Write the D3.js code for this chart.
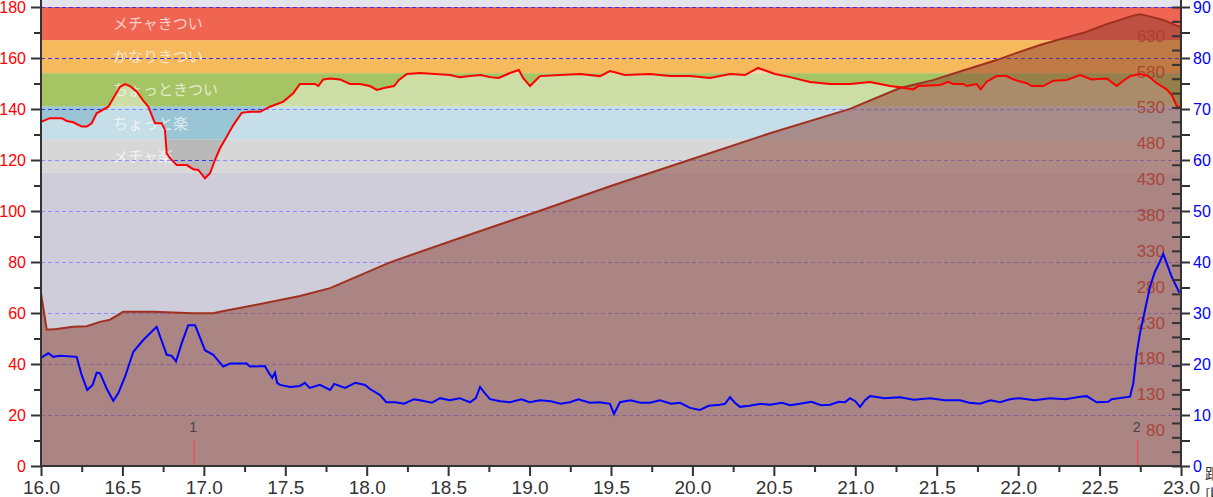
<!DOCTYPE html>
<html><head><meta charset="utf-8">
<script src="https://cdn.jsdelivr.net/npm/d3@7"></script>
<style>body{margin:0;background:#fff;} svg{display:block;}</style>
</head><body><svg id="c" width="1213" height="497"></svg>
<script>
// ---- data: [distance km, value] ----
const heartRate = [[16.00,135],[16.055,136.4],[16.127,136.4],[16.158,135.3],[16.198,134.8],[16.25,133.1],[16.281,133.1],[16.311,134.4],[16.342,138.3],[16.413,140.9],[16.444,144.2],[16.485,148.7],[16.516,149.8],[16.546,149],[16.588,146.8],[16.628,143.3],[16.659,140.9],[16.70,134.4],[16.741,134.4],[16.761,131.8],[16.772,122.6],[16.792,120.7],[16.833,118],[16.895,118],[16.935,116.4],[16.966,116.1],[17.007,112.8],[17.038,114.8],[17.068,120],[17.099,124.6],[17.14,129.1],[17.181,133.7],[17.232,138.5],[17.283,138.9],[17.345,138.9],[17.406,140.9],[17.488,142.9],[17.549,146.2],[17.59,149.8],[17.682,149.8],[17.703,149],[17.733,151.6],[17.775,152],[17.836,151.6],[17.897,149.8],[17.958,149.8],[18.019,149],[18.063,147.5],[18.106,148.2],[18.168,149],[18.198,151.4],[18.247,153.7],[18.33,154.1],[18.42,153.7],[18.511,153.3],[18.57,152.5],[18.634,152.9],[18.70,153.3],[18.757,152.5],[18.81,152.2],[18.88,154.1],[18.934,155.3],[18.96,152.2],[19.003,149.0],[19.04,151.4],[19.064,152.9],[19.187,153.3],[19.31,153.7],[19.432,152.9],[19.494,154.9],[19.586,153.3],[19.739,153.7],[19.862,152.9],[19.985,152.9],[20.108,152.2],[20.231,153.7],[20.323,153.3],[20.403,156.1],[20.507,153.7],[20.599,152.5],[20.722,150.6],[20.845,149.8],[20.967,149.8],[21.09,150.6],[21.213,149],[21.274,148.5],[21.356,147.7],[21.387,149],[21.52,149.4],[21.571,150.7],[21.602,149.8],[21.663,149.8],[21.684,149],[21.745,149.8],[21.77,147.7],[21.807,150.7],[21.868,152.9],[21.93,152.9],[21.97,151.6],[22.052,150.1],[22.083,149],[22.154,149],[22.216,151.1],[22.298,151.4],[22.38,153.3],[22.452,151.6],[22.544,152],[22.605,149],[22.646,151.1],[22.687,152.9],[22.748,153.7],[22.799,152.9],[22.851,150.1],[22.912,147.7],[22.943,145.5],[22.974,141.2],[23.0,140.4]];

const elevation = [[16.0,271],[16.035,220],[16.096,221],[16.198,224],[16.281,225],[16.362,231],[16.424,234],[16.505,245],[16.69,245],[16.935,243],[17.058,243],[17.099,245],[17.283,253],[17.59,267],[17.775,278],[18.143,314],[18.573,348],[19.064,386],[19.494,420],[19.985,457],[20.476,494],[20.967,528],[21.274,557],[21.477,568],[21.643,580],[21.868,596],[21.991,606],[22.134,617],[22.257,625],[22.40,634],[22.544,646],[22.625,652],[22.707,658],[22.748,660],[22.789,658],[22.891,652],[22.973,644],[23.0,642]];

const speed = [[16.004,21.3],[16.045,22.1],[16.076,21.4],[16.117,21.6],[16.219,21.4],[16.25,17.8],[16.284,14.9],[16.317,15.9],[16.342,18.3],[16.362,18.2],[16.403,15.2],[16.444,12.8],[16.475,14.3],[16.516,17.5],[16.567,22.4],[16.628,24.7],[16.71,27.3],[16.772,21.8],[16.803,21.6],[16.829,20.5],[16.864,24.1],[16.904,27.6],[16.946,27.6],[17.007,22.7],[17.058,21.8],[17.119,19.5],[17.16,20.1],[17.263,20.1],[17.283,19.5],[17.375,19.6],[17.40,18.2],[17.42,17.3],[17.437,18.3],[17.45,16.3],[17.468,15.9],[17.53,15.5],[17.59,15.7],[17.62,16.3],[17.65,15.3],[17.713,15.9],[17.775,14.9],[17.80,16.1],[17.867,15.3],[17.93,16.3],[17.99,15.9],[18.02,15.1],[18.082,13.9],[18.12,12.5],[18.174,12.5],[18.23,12.2],[18.29,13.1],[18.327,12.9],[18.40,12.4],[18.45,13.3],[18.511,12.9],[18.57,13.3],[18.634,12.5],[18.67,13.3],[18.696,15.5],[18.72,14.5],[18.757,13.1],[18.82,12.7],[18.88,12.5],[18.95,13.1],[19.0,12.5],[19.064,12.9],[19.13,12.7],[19.19,12.2],[19.248,12.5],[19.30,13.1],[19.37,12.4],[19.432,12.5],[19.494,12.2],[19.518,10.2],[19.555,12.5],[19.62,12.9],[19.68,12.4],[19.739,12.4],[19.80,12.9],[19.87,12.2],[19.924,12.4],[19.985,11.4],[20.046,11.0],[20.1,11.8],[20.169,12.0],[20.2,12.2],[20.231,13.5],[20.26,12.4],[20.292,11.6],[20.35,11.8],[20.42,12.2],[20.476,12.0],[20.55,12.4],[20.60,11.9],[20.66,12.2],[20.73,12.6],[20.79,11.9],[20.845,12.0],[20.9,12.6],[20.937,12.5],[20.967,13.3],[21.0,12.7],[21.029,11.6],[21.06,12.9],[21.09,13.7],[21.18,13.3],[21.274,13.5],[21.36,13.0],[21.459,13.3],[21.55,12.9],[21.643,12.9],[21.70,12.4],[21.766,12.2],[21.83,12.9],[21.889,12.5],[21.95,13.1],[22.011,13.3],[22.1,12.9],[22.195,13.3],[22.29,13.1],[22.38,13.6],[22.421,13.7],[22.482,12.5],[22.553,12.6],[22.574,13.1],[22.687,13.6],[22.707,16.2],[22.728,22.1],[22.748,26.0],[22.779,30.6],[22.81,35.2],[22.84,38.1],[22.871,40.1],[22.891,41.6],[22.943,37.1],[22.99,34.0]];

const zoneNames = ["メチャきつい","かなりきつい","ちょっときつい","ちょっと楽","メチャ楽"];
const zoneBounds = [180,167,154,141,128,115];
const zoneColors = ["#f06452","#f6b95c","#a5c463","#99c5d5","#b9b9b9"];
const hrTicks = d3.range(0,181,10);
const hrGrid = d3.range(20,181,20);
const speedTicks = d3.range(0,91,5);
const elevTicks = d3.range(30,671,20);
const elevLabels = d3.range(80,631,50);
const kmTicks = d3.range(0,29).map(i=>16+i*0.25);
const laps = [[16.94,"1"],[22.734,"2"]];
const axisTitle = ["距離","[km]"];

// ---- layout ----
const L=41,R=1181,T=7,B=466;
const svg = d3.select("#c");
const x = d3.scaleLinear().domain([16,23]).range([L,R]);
const yHR = d3.scaleLinear().domain([0,180]).range([B,T]);
const ySp = d3.scaleLinear().domain([0,90]).range([B,T]);
const yEl = d3.scaleLinear().domain([30,670]).range([B,T]);

svg.append("defs").append("clipPath").attr("id","pc")
  .append("rect").attr("x",L).attr("y",0).attr("width",R-L).attr("height",B);

const plot = svg.append("g").attr("clip-path","url(#pc)");
plot.append("rect").attr("x",L).attr("y",0).attr("width",R-L).attr("height",B).attr("fill","#e4e4ee");
plot.append("rect").attr("x",L).attr("y",yHR(115)).attr("width",R-L).attr("height",B-yHR(115)).attr("fill","#a9a7bc");
plot.selectAll("rect.zone").data(zoneNames).join("rect").attr("class","zone")
  .attr("x",L).attr("width",R-L)
  .attr("y",(d,i)=>yHR(zoneBounds[i]))
  .attr("height",(d,i)=>yHR(zoneBounds[i+1])-yHR(zoneBounds[i]))
  .attr("fill",(d,i)=>zoneColors[i]);
plot.selectAll("text.zone").data(zoneNames).join("text").attr("class","zone")
  .attr("x",L+72)
  .attr("y",(d,i)=>(yHR(zoneBounds[i])+yHR(zoneBounds[i+1]))/2+1.5)
  .attr("dominant-baseline","middle")
  .attr("font-family","'Noto Sans CJK JP'").attr("font-size",15)
  .attr("fill","#fff").attr("fill-opacity",0.7).text(d=>d);

plot.selectAll("line.grid").data(hrGrid).join("line").attr("class","grid")
  .attr("x1",L).attr("x2",R).attr("y1",d=>yHR(d)+0.5).attr("y2",d=>yHR(d)+0.5)
  .attr("stroke","#3333ff").attr("stroke-width",1).attr("stroke-dasharray","4,3");

const hrArea = d3.area().x(d=>x(d[0])).y0(B).y1(d=>yHR(d[1]));
plot.append("path").datum(heartRate).attr("d",hrArea).attr("fill","#fff").attr("fill-opacity",0.43);

const elArea = d3.area().x(d=>x(d[0])).y0(B).y1(d=>yEl(d[1]));
plot.append("path").datum(elevation).attr("d",elArea).attr("fill","#883b2f").attr("fill-opacity",0.5);
plot.append("path").datum(elevation).attr("d",d3.line().x(d=>x(d[0])).y(d=>yEl(d[1])))
  .attr("fill","none").attr("stroke","#a0301f").attr("stroke-width",2);

plot.selectAll("text.el").data(elevLabels).join("text").attr("class","el")
  .attr("x",R-16).attr("y",d=>yEl(d)+1.5).attr("text-anchor","end").attr("dominant-baseline","middle")
  .attr("font-family","'Liberation Sans'").attr("font-size",17).attr("fill","#a83a2c").attr("fill-opacity",0.85)
  .text(d=>d);

plot.append("path").datum(heartRate).attr("d",d3.line().x(d=>x(d[0])).y(d=>yHR(d[1])))
  .attr("fill","none").attr("stroke","#ff0000").attr("stroke-width",2);
plot.append("path").datum(speed).attr("d",d3.line().x(d=>x(d[0])).y(d=>ySp(d[1])))
  .attr("fill","none").attr("stroke","#0000ff").attr("stroke-width",2);

const lapG = plot.selectAll("g.lap").data(laps).join("g").attr("class","lap");
lapG.append("line").attr("x1",d=>x(d[0])).attr("x2",d=>x(d[0])).attr("y1",440).attr("y2",B)
  .attr("stroke","#ff3b3b").attr("stroke-width",1);
lapG.append("text").attr("x",d=>x(d[0])-1).attr("y",432).attr("text-anchor","middle")
  .attr("font-family","'Liberation Sans'").attr("font-size",14).attr("fill","#444").text(d=>d[1]);

// ---- axes ----
function style(g){ g.select(".domain").remove(); g.selectAll("line").attr("stroke","#333").attr("stroke-width",2); }

svg.append("g").attr("transform",`translate(${L},0)`)
  .call(d3.axisLeft(yHR).tickValues(hrTicks.filter(d=>d%20!==0)).tickSize(7).tickFormat(""))
  .call(style);
svg.append("g").attr("transform",`translate(${L},0)`)
  .call(d3.axisLeft(yHR).tickValues(hrTicks.filter(d=>d%20===0)).tickSize(10).tickPadding(5))
  .call(style)
  .call(g=>g.selectAll("text").attr("font-family","'Liberation Sans'").attr("font-size",16).attr("fill","#ff0000"));

svg.append("g").attr("transform",`translate(0,${B})`)
  .call(d3.axisBottom(x).tickValues(kmTicks.filter((d,i)=>i%2===1)).tickSize(6).tickFormat(""))
  .call(style);
svg.append("g").attr("transform",`translate(0,${B})`)
  .call(d3.axisBottom(x).tickValues(kmTicks.filter((d,i)=>i%2===0)).tickSize(10).tickPadding(5).tickFormat(d=>d.toFixed(1)))
  .call(style)
  .call(g=>g.selectAll("text").attr("font-family","'Liberation Sans Narrow','Liberation Sans'").attr("font-size",19).attr("fill","#333"));

svg.append("g").attr("transform",`translate(${R},0)`)
  .call(d3.axisRight(ySp).tickValues(speedTicks).tickSize(9).tickPadding(3).tickFormat(d=>d%10===0?d:""))
  .call(style)
  .call(g=>g.selectAll("text").attr("font-family","'Liberation Sans'").attr("font-size",16).attr("fill","#0000ff"));
svg.append("g").attr("transform",`translate(${R},0)`)
  .call(d3.axisLeft(yEl).tickValues(elevTicks).tickSize(9).tickFormat(""))
  .call(style);

svg.append("line").attr("x1",L).attr("x2",L).attr("y1",0).attr("y2",B+1).attr("stroke","#333").attr("stroke-width",2);
svg.append("line").attr("x1",R).attr("x2",R).attr("y1",0).attr("y2",B+1).attr("stroke","#333").attr("stroke-width",2);
svg.append("line").attr("x1",L).attr("x2",R).attr("y1",B).attr("y2",B).attr("stroke","#333").attr("stroke-width",2);

svg.selectAll("text.title").data(axisTitle).join("text").attr("class","title")
  .attr("x",1205).attr("y",(d,i)=>479+i*21)
  .attr("font-family","'Noto Sans CJK JP'").attr("font-size",15).attr("fill","#333").text(d=>d);
</script></body></html>
